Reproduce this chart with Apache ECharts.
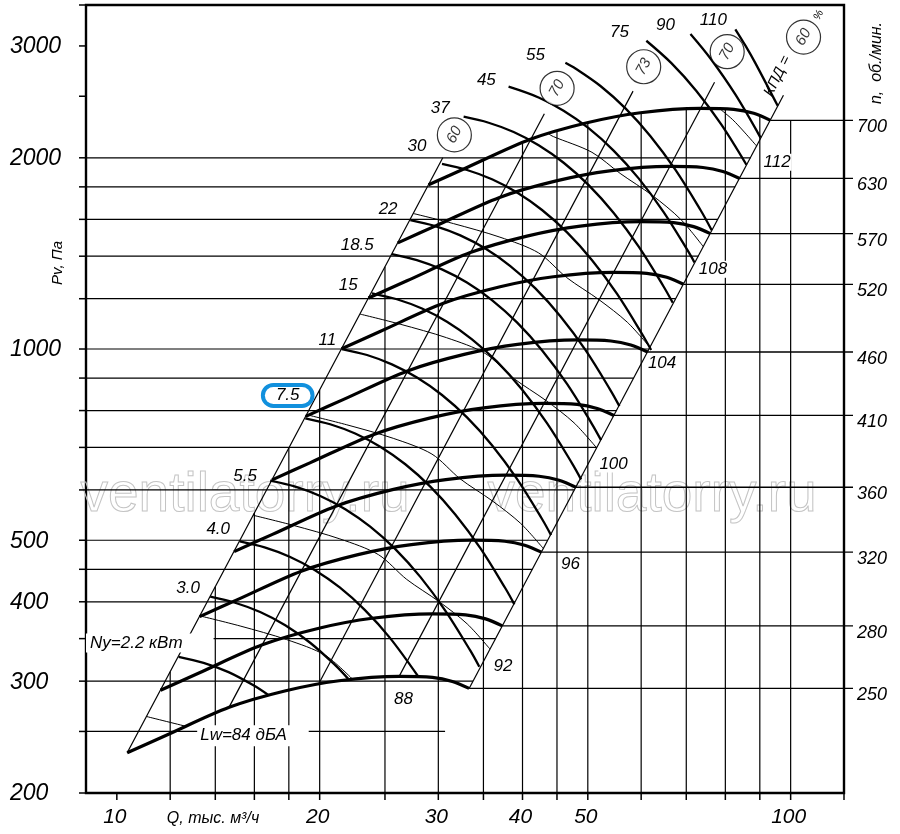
<!DOCTYPE html>
<html><head><meta charset="utf-8">
<script src="https://cdn.jsdelivr.net/npm/echarts@6.0.0/dist/echarts.min.js"></script>
<style>html,body{margin:0;padding:0;background:#fff;}#chart{width:900px;height:834px;}</style>
</head><body><div id="chart"></div>
<script>
const FONT = '"Liberation Sans", Arial, sans-serif';

// ---------- axes ----------
const qMin = 9, qMax = 120, pMin = 200, pMax = 3480;
const qTicks = [10,12,14,16,18,20,25,30,35,40,45,50,60,70,80,90,100,120];
const pTicks = [200,250,300,350,400,450,500,600,700,800,900,1000,1200,1400,1600,1800,2000,2500,3000,3480];
const qTickLabels = [10,20,30,40,50,100];
const pTickLabels = [200,300,400,500,1000,2000,3000];

// ---------- grid lines ----------
const hGridP    = [250,300,350,400,450,500,600,700,800,900,1000,1200,1400,1600,1800,2000];
const hGridQEnd = [30.7,33.77,36.48,39.0,41.37,43.6,47.76,51.59,55.15,58.5,61.66,67.55,72.96,78.0,82.73,87.2];
const vGridQ    = [12,14,16,18,20,25,30,35,40,45,50,60,70,80,90,100];
const vGridPTop = [310.3,422.4,551.7,698.2,862,1346.9,1843,1980,2111,2198,2272,2356,2383,2386,2329,2291];

// ---------- fan speed curves n, rpm : [Q, Pv] ----------
const rpmSpeeds = [250,280,320,360,410,460,520,570,630,700];
const rpm250 = [[10.36,231.4],[11.82,246.3],[14.68,272.8],[17.81,289.7],[21.37,300.4],[26.24,305.2],[29.40,304.1],[31.48,299.7],[33.33,292.2]];
const rpm280 = [[11.61,290.2],[13.24,309.0],[16.44,342.2],[19.95,363.4],[23.94,376.8],[29.38,382.9],[32.93,381.4],[35.26,376.0],[37.33,366.6]];
const rpm320 = [[13.27,379.1],[15.13,403.5],[18.78,447.0],[22.80,474.6],[27.36,492.1],[33.58,500.1],[37.64,498.2],[40.30,491.1],[42.66,478.8]];
const rpm360 = [[14.93,479.8],[17.02,510.7],[21.13,565.7],[25.65,600.7],[30.78,622.9],[37.78,632.9],[42.34,630.5],[45.33,621.6],[48.00,605.9]];
const rpm410 = [[17.00,622.3],[19.38,662.5],[24.07,733.8],[29.21,779.1],[35.05,807.9],[43.03,820.9],[48.22,817.9],[51.63,806.2],[54.67,786.0]];
const rpm460 = [[19.07,783.4],[21.75,833.9],[27.00,923.7],[32.77,980.7],[39.32,1017.0],[48.27,1033.4],[54.10,1029.5],[57.93,1014.8],[61.33,989.3]];
const rpm520 = [[21.56,1001.0],[24.58,1065.6],[30.52,1180.4],[37.05,1253.2],[44.45,1299.6],[54.57,1320.6],[61.16,1315.6],[65.48,1296.8],[69.33,1264.3]];
const rpm570 = [[23.63,1202.8],[26.95,1280.4],[33.46,1418.3],[40.61,1505.8],[48.73,1561.5],[59.82,1586.7],[67.04,1580.7],[71.78,1558.2],[76.00,1519.1]];
const rpm630 = [[26.12,1469.3],[29.78,1564.1],[36.98,1732.6],[44.88,1839.5],[53.86,1907.6],[66.11,1938.3],[74.10,1931.0],[79.34,1903.5],[84.00,1855.7]];
const rpm700 = [[29.02,1814],[33.09,1931],[41.09,2139],[49.87,2271],[59.84,2355],[73.46,2393],[82.33,2384],[88.15,2350],[93.33,2291]];
const rpmCurves = [rpm250,rpm280,rpm320,rpm360,rpm410,rpm460,rpm520,rpm570,rpm630,rpm700];

// ---------- shaft power curves Ny, kW ----------
const pw2_2 = [[12.35,327.7],[13.45,320.6],[14.65,310.0],[15.95,295.5],[16.80,285.1]];
const pw3_0 = [[13.76,407.4],[14.98,398.6],[16.32,385.4],[17.78,367.4],[19.36,344.8],[21.09,317.9],[22.05,302.5]];
const pw4_0 = [[15.22,497.8],[16.57,487.1],[18.05,470.9],[19.66,448.9],[21.42,421.3],[23.33,388.5],[25.41,351.3],[28.01,305.1]];
const pw5_5 = [[16.89,620.4],[18.40,607.1],[20.04,586.9],[21.83,559.5],[23.77,525.1],[25.90,484.2],[28.21,437.8],[30.72,387.4],[33.47,335.0],[34.51,316.0]];
const pw7_5 = [[19.04,778.0],[20.73,761.3],[22.58,736.0],[24.60,701.6],[26.80,658.5],[29.19,607.2],[31.79,549.0],[34.63,485.8],[37.72,420.1],[38.90,396.3]];
const pw11  = [[21.58,1000],[23.51,978.5],[25.60,946.0],[27.89,901.8],[30.38,846.4],[33.09,780.4],[36.04,705.6],[39.25,624.4],[42.76,540.0],[44.09,509.4]];
const pw15  = [[23.91,1223.9],[26.04,1197.6],[28.37,1157.9],[30.90,1103.8],[33.66,1035.9],[36.66,955.2],[39.93,863.6],[43.49,764.3],[47.38,660.8],[48.86,623.5]];
const pw18_5= [[25.60,1411],[27.88,1380.6],[30.37,1334.9],[33.08,1272.5],[36.03,1194.3],[39.25,1101.2],[42.75,995.6],[46.57,881.1],[50.72,761.9],[52.31,718.8]];
const pw22  = [[27.26,1596],[29.69,1561.7],[32.34,1509.9],[35.23,1439.3],[38.37,1350.9],[41.80,1245.6],[45.52,1126.2],[49.59,996.6],[54.01,861.8],[55.70,813.0]];
const pw30  = [[30.38,1955.6],[33.09,1913.5],[36.04,1850.1],[39.26,1763.6],[42.76,1655.2],[46.58,1526.2],[50.73,1379.9],[55.26,1221.2],[60.19,1055.9],[62.08,996.2]];
const pw37  = [[32.71,2321],[35.63,2271.1],[38.81,2195.8],[42.27,2093.2],[46.04,1964.5],[50.15,1811.4],[54.63,1637.7],[59.50,1449.4],[64.81,1253.2],[66.84,1182.3]];
const pw45  = [[38.14,2588],[42.26,2488.7],[46.03,2372.4],[50.14,2226.6],[54.61,2053.0],[59.49,1856.2],[64.79,1642.7],[70.58,1420.4],[71.97,1369.0]];
const pw55  = [[46.31,2823],[47.93,2764.5],[52.21,2594.6],[56.87,2392.3],[61.94,2163.0],[67.47,1914.2],[73.49,1655.2],[76.36,1538.2]];
const pw75  = [[61.07,3057],[66.53,2818.6],[72.46,2548.5],[78.93,2255.3],[85.97,1950.2]];
const pw90  = [[71.01,3133],[76.04,2866.3],[82.82,2513.7],[90.21,2151.7]];
const pw110 = [[82.78,3187],[85.69,3003.1],[88.64,2819.2],[95.67,2415.2]];
const powerCurves = [pw2_2,pw3_0,pw4_0,pw5_5,pw7_5,pw11,pw15,pw18_5,pw22,pw30,pw37,pw45,pw55,pw75,pw90,pw110];
const powerNames = ['2.2','3.0','4.0','5.5','7.5','11','15','18.5','22','30','37','45','55','75','90','110'];
const powerLabelQ = [12.76,14.14,15.50,17.93,20.53,22.05,22.74,25.27,27.89,30.2,35.35,41.8,55.7,65.2,76.8];
const powerLabelP = [420.5,520.7,629.5,845.2,1033,1261,1458,1661,2083,2395,2652,2903,3148,3236,3296];

// ---------- sound power curves Lw, dBA ----------
const lw84  = [[11.07,263.9],[12.70,254.5]];
const lw88  = [[13.28,380.1],[15.24,366.4],[17.86,348.8],[20.38,329.5],[22.44,301.2]];
const lw92  = [[15.94,547.3],[18.29,527.6],[21.43,502.4],[24.45,474.5],[26.93,433.8],[30.06,400.4],[33.12,369.1],[35.79,337.0]];
const lw96  = [[19.13,788.1],[21.94,759.8],[25.72,723.4],[29.35,683.3],[32.32,624.7],[36.08,576.6],[39.75,531.4],[42.94,485.3]];
const lw100 = [[22.96,1135],[26.33,1094.2],[30.86,1041.8],[35.22,984.0],[38.78,899.6],[43.29,830.4],[47.70,765.3],[51.53,698.8]];
const lw104 = [[27.55,1634.2],[31.60,1575.5],[37.03,1500.0],[42.26,1416.8],[46.53,1295.3],[51.95,1195.7],[57.23,1101.9],[61.84,1006.2]];
const lw108 = [[43.77,2179.3],[44.44,2160.1],[50.71,2040.3],[55.84,1890.0],[62.34,1745.0],[68.68,1600.0],[74.20,1449.1]];
const lw112 = [[78.54,2387.8],[82.42,2285.3],[89.05,2086.8]];
const noiseCurves = [lw84,lw88,lw92,lw96,lw100,lw104,lw108,lw112];
const noiseNames = ['88','92','96','100','104','108','112'];
const noiseLabelQ = [26.64,37.42,47.11,54.6,64.45,76.7,95.5];
const noiseLabelP = [281.2,316.9,458.6,659.2,950.5,1335,1968];

// ---------- efficiency lines (КПД, %) ----------
const effValues = [60,70,73,70,60];
const eff60L = [[10.36,231.4],[30.46,2000]];
const eff70L = [[14.67,272.8],[43.1,2346]];
const eff73  = [[19.90,296.2],[58.36,2547]];
const eff70R = [[26.24,305.2],[77.1,2630]];
const eff60R = [[33.33,292.2],[97.57,2509]];
const effLines = [eff60L,eff70L,eff73,eff70R,eff60R];
const effCircleQ = [31.69,45.02,60.52,80.5,104.5];
const effCircleP = [2173,2573,2782,2938,3098];

// ---------- build ----------
const chart = echarts.init(document.getElementById('chart'), null, {renderer:'canvas'});
const series = [];

function segItem(w){
  return function(params, api){
    const a = api.coord([api.value(0), api.value(1)]);
    const b = api.coord([api.value(2), api.value(3)]);
    return {type:'line', shape:{x1:a[0],y1:a[1],x2:b[0],y2:b[1]}, style:{stroke:'#000', lineWidth:w}};
  };
}
series.push({type:'custom', silent:true, z:1, renderItem:segItem(1.2),
  data: hGridP.map((p,i)=>[qMin,p,hGridQEnd[i],p]).concat(vGridQ.map((q,i)=>[q,pMin,q,vGridPTop[i]]))});
series.push({type:'custom', silent:true, clip:false, z:3, data:pTicks.map(p=>[qMin,p]),
  renderItem:(params,api)=>{const a=api.coord([api.value(0),api.value(1)]);
    return {type:'line',shape:{x1:a[0]-7,y1:a[1],x2:a[0],y2:a[1]},style:{stroke:'#000',lineWidth:1.5}};}});
series.push({type:'custom', silent:true, clip:false, z:3, data:qTicks.map(q=>[q,pMin]),
  renderItem:(params,api)=>{const a=api.coord([api.value(0),api.value(1)]);
    return {type:'line',shape:{x1:a[0],y1:a[1],x2:a[0],y2:a[1]+7},style:{stroke:'#000',lineWidth:1.5}};}});
series.push({type:'custom', silent:true, clip:false, z:2, data:rpmCurves.map(c=>c[c.length-1]),
  renderItem:(params,api)=>{const a=api.coord([api.value(0),api.value(1)]); const b=api.coord([qMax,api.value(1)]);
    return {type:'line',shape:{x1:a[0],y1:a[1],x2:b[0]+9,y2:a[1]},style:{stroke:'#000',lineWidth:1.3}};}});

effLines.forEach(d=>series.push({type:'line', data:d, symbol:'none', silent:true, z:3, lineStyle:{color:'#000', width:1.2}}));
noiseCurves.forEach(d=>series.push({type:'line', data:d, smooth:0.3, symbol:'none', silent:true, z:3, lineStyle:{color:'#000', width:1.0}}));
powerCurves.forEach(d=>series.push({type:'line', data:d, smooth:0.35, symbol:'none', silent:true, z:4, lineStyle:{color:'#000', width:2.3}}));
rpmCurves.forEach(d=>series.push({type:'line', data:d, smooth:0.3, symbol:'none', silent:true, z:5, lineStyle:{color:'#000', width:3.2}}));

series.push({type:'scatter', silent:true, z:8,
  data: effCircleQ.map((q,i)=>({value:[q,effCircleP[i]], name:String(effValues[i])})),
  symbol:'circle', symbolSize:34, itemStyle:{color:'#fff', borderColor:'#000', borderWidth:1.2},
  label:{show:true, position:'inside', formatter:'{b}', rotate:62, color:'#000', fontSize:15, fontStyle:'italic', fontFamily:FONT}});

function textSeries(texts, qs, ps, st){
  return {type:'custom', silent:true, clip:false, z:10,
    data: texts.map((t,i)=>[qs[i], ps[i], i]),
    renderItem:(params,api)=>{
      const a = api.coord([api.value(0), api.value(1)]);
      const t = texts[api.value(2)];
      const s = Object.assign({text:t, fill:'#000', fontFamily:FONT, fontStyle:'italic', fontSize:17, align:'center', verticalAlign:'middle'}, st.style||{});
      if (st.special && st.special[t]) Object.assign(s, st.special[t]);
      const x = st.fx ? st.fx(a, api) : a[0] + (st.dx||0);
      const y = a[1] + (st.dy||0);
      return {type:'text', x:x, y:y, rotation:(st.rot||0)*Math.PI/180, style:s};
    }};
}
series.push(textSeries(powerNames.slice(1), powerLabelQ, powerLabelP, {
  special:{'7.5':{backgroundColor:'#fff', borderColor:'#1190dd', borderWidth:4, borderRadius:10, padding:[0,11,0,11]}}}));
series.push(textSeries(['Ny=2.2 кВт'], [9.0], [344.5], {style:{align:'left', backgroundColor:'#fff', padding:[1,31,1,4]}}));
series.push(textSeries(noiseNames, noiseLabelQ, noiseLabelP, {style:{backgroundColor:'#fff', padding:[0,1,0,1]}}));
series.push(textSeries(['Lw=84 дБА'], [13.16], [246.2], {style:{align:'left', backgroundColor:'#fff', padding:[2,22,2,3]}}));
series.push(textSeries(['КПД ='], [95.6], [2690], {rot:64, style:{fontSize:15}}));
series.push(textSeries(['%'], [110], [3356], {rot:64, style:{fontSize:11}}));
series.push(textSeries(pTickLabels.map(String), pTickLabels.map(()=>qMin), pTickLabels, {fx:()=>10, dy:1, style:{fontSize:23, align:'left'}}));
series.push({type:'custom', silent:true, clip:false, z:10, data:qTickLabels.map(q=>[q,pMin]),
  renderItem:(params,api)=>{const a=api.coord([api.value(0),api.value(1)]);
    return {type:'text', x:a[0]-2, y:817, style:{text:String(api.value(0)), fill:'#000', fontFamily:FONT, fontStyle:'italic', fontSize:21, align:'center', verticalAlign:'middle'}};}});
series.push({type:'custom', silent:true, clip:false, z:10, data:rpmCurves.map((c,i)=>[c[c.length-1][0], c[c.length-1][1], i]),
  renderItem:(params,api)=>{const a=api.coord([qMax,api.value(1)]);
    return {type:'text', x:a[0]+28, y:a[1]+7, style:{text:String(rpmSpeeds[api.value(2)]), fill:'#000', fontFamily:FONT, fontStyle:'italic', fontSize:18, align:'center', verticalAlign:'middle'}};}});

const option = {
  animation:false,
  backgroundColor:'#fff',
  grid:{left:86, right:56, top:5, bottom:41, show:true, borderColor:'#000', borderWidth:2.4, backgroundColor:'transparent'},
  xAxis:{type:'log', logBase:10, min:qMin, max:qMax, axisLine:{show:false}, axisTick:{show:false}, axisLabel:{show:false}, splitLine:{show:false}},
  yAxis:{type:'log', logBase:10, min:pMin, max:pMax, axisLine:{show:false}, axisTick:{show:false}, axisLabel:{show:false}, splitLine:{show:false}},
  graphic:[
    {type:'text', x:245, y:496, z:0, silent:true, style:{text:'ventilatorry.ru', fontFamily:FONT, fontSize:55, fill:'rgba(255,255,255,0)', stroke:'#c4c4c4', lineWidth:1, align:'center', verticalAlign:'middle'}},
    {type:'text', x:652, y:496, z:0, silent:true, style:{text:'ventilatorry.ru', fontFamily:FONT, fontSize:55, fill:'rgba(255,255,255,0)', stroke:'#c4c4c4', lineWidth:1, align:'center', verticalAlign:'middle'}},
    {type:'text', x:58, y:263, rotation:Math.PI/2, silent:true, style:{text:'Pv, Па', fontFamily:FONT, fontStyle:'italic', fontSize:15, fill:'#000', align:'center', verticalAlign:'middle'}},
    {type:'text', x:877, y:63, rotation:Math.PI/2, silent:true, style:{text:'n,  об./мин.', fontFamily:FONT, fontStyle:'italic', fontSize:16, fill:'#000', align:'center', verticalAlign:'middle'}},
    {type:'text', x:213, y:819, silent:true, style:{text:'Q, тыс. м³/ч', fontFamily:FONT, fontStyle:'italic', fontSize:16, fill:'#000', align:'center', verticalAlign:'middle'}}
  ],
  series: series
};
chart.setOption(option);
</script></body></html>
